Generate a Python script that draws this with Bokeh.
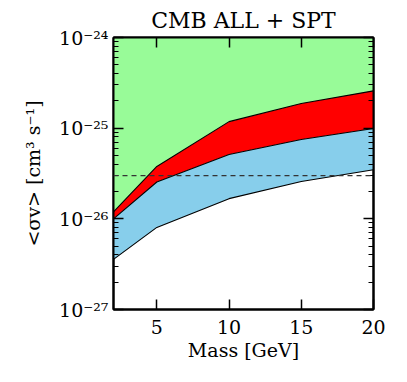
from bokeh.plotting import figure
from bokeh.models import LinearAxis, LogAxis, FixedTicker, LogTicker, Span, Range1d
from bokeh.embed import file_html
from bokeh.resources import INLINE

mass = [2, 5, 10, 15, 20]
red_top = [1.19e-26, 3.78e-26, 1.18e-25, 1.87e-25, 2.58e-25]
blue_top = [1.0e-26, 2.55e-26, 5.12e-26, 7.5e-26, 9.9e-26]
blue_bottom = [3.57e-27, 8.04e-27, 1.67e-26, 2.58e-26, 3.48e-26]
sky_top = [1e-24] * 5
ref_line = 3e-26

x_ticks = [5, 10, 15, 20]
y_ticks = [1e-27, 1e-26, 1e-25, 1e-24]
y_labels = {1e-27: "10⁻²⁷", 1e-26: "10⁻²⁶", 1e-25: "10⁻²⁵", 1e-24: "10⁻²⁴"}

FONT = "DejaVu Serif"

p = figure(width=399, height=374, y_axis_type="log",
           x_range=Range1d(2, 20), y_range=Range1d(1e-27, 1e-24),
           output_backend="svg", toolbar_location=None,
           title="CMB ALL + SPT",
           min_border_left=113, min_border_right=26, min_border_top=34, min_border_bottom=65)

p.title.text_font = FONT
p.title.text_font_size = "22px"
p.title.text_font_style = "normal"
p.title.text_color = "black"
p.title.align = "center"
p.title.offset = 0

p.varea(x=mass, y1=red_top, y2=sky_top, fill_color="#98FB98")
p.varea(x=mass, y1=blue_top, y2=red_top, fill_color="#FF0000")
p.varea(x=mass, y1=blue_bottom, y2=blue_top, fill_color="#87CEEB")
for ys in (red_top, blue_top, blue_bottom):
    p.line(mass, ys, line_color="black", line_width=1.1)

p.add_layout(Span(location=ref_line, dimension="width", line_color="#333333",
                  line_dash="5 4", line_width=1.2))

p.grid.visible = False
p.outline_line_color = "black"
p.outline_line_width = 2

def style(ax, labels=True):
    ax.major_tick_in = 10
    ax.major_tick_out = 0
    ax.minor_tick_in = 5
    ax.minor_tick_out = 0
    ax.axis_line_width = 2
    ax.axis_line_color = "black"
    ax.major_tick_line_color = "black"
    ax.minor_tick_line_color = "black"
    ax.major_tick_line_width = 1.5
    ax.minor_tick_line_width = 1
    ax.major_label_text_font = FONT
    ax.major_label_text_font_size = "19px"
    ax.major_label_text_color = "black"
    ax.axis_label_text_font = FONT
    ax.axis_label_text_font_size = "19px"
    ax.axis_label_text_font_style = "normal"
    ax.axis_label_text_color = "black"
    if not labels:
        ax.major_label_text_font_size = "0px"
        ax.major_label_text_alpha = 0

xa = p.xaxis[0]
xa.ticker = FixedTicker(ticks=x_ticks, minor_ticks=[])
xa.axis_label = "Mass [GeV]"
style(xa)
xa.major_label_standoff = 10
xa.axis_label_standoff = 2

ya = p.yaxis[0]
ya.ticker = LogTicker(num_minor_ticks=10, desired_num_ticks=4)
ya.major_label_overrides = y_labels
ya.axis_label = "<σv> [cm³ s⁻¹]"
style(ya)
ya.major_label_standoff = 5
ya.axis_label_standoff = 12

top = LinearAxis(ticker=FixedTicker(ticks=x_ticks, minor_ticks=[]))
style(top, labels=False)
p.add_layout(top, "above")

right = LogAxis(ticker=LogTicker(num_minor_ticks=10, desired_num_ticks=4))
style(right, labels=False)
p.add_layout(right, "right")

open("out.html", "w").write(file_html(p, INLINE))
